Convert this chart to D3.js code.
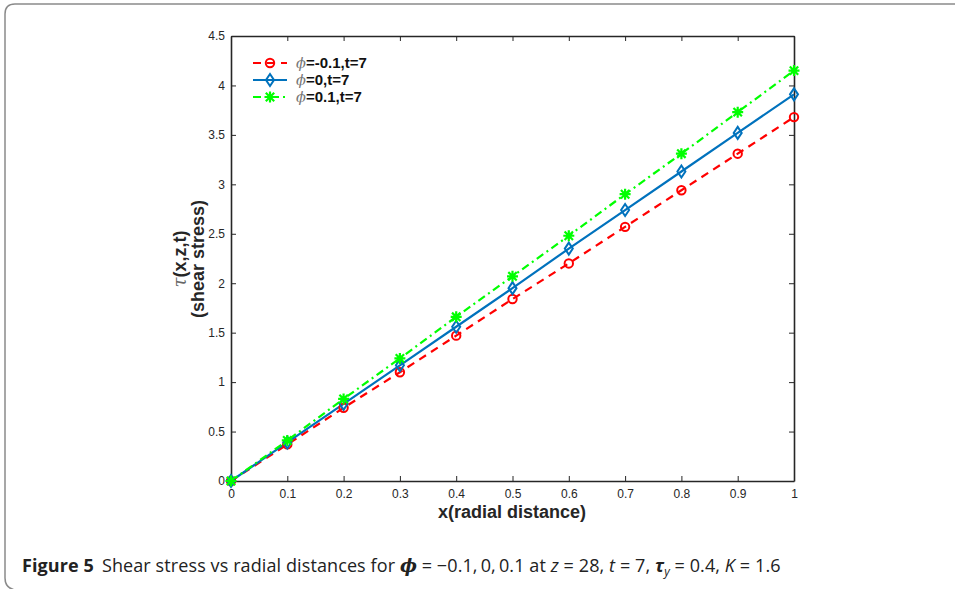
<!DOCTYPE html>
<html><head><meta charset="utf-8">
<script src="https://cdn.jsdelivr.net/npm/d3@7"></script>
<style>body{margin:0;background:#fff}svg{display:block}</style>
</head><body><svg id="c" width="955" height="589"></svg>
<script>
const xVals = [0,0.1,0.2,0.3,0.4,0.5,0.6,0.7,0.8,0.9,1];
const redVals = [0,0.37,0.74,1.10,1.47,1.84,2.20,2.57,2.94,3.31,3.68];
const blueVals = [0,0.39,0.78,1.17,1.56,1.95,2.35,2.74,3.13,3.52,3.91];
const greenVals = [0,0.41,0.83,1.24,1.66,2.07,2.48,2.90,3.31,3.73,4.15];
const seriesNames = ["=-0.1,t=7","=0,t=7","=0.1,t=7"];
const xTicks = [0,0.1,0.2,0.3,0.4,0.5,0.6,0.7,0.8,0.9,1];
const yTicks = [0,0.5,1,1.5,2,2.5,3,3.5,4,4.5];

const svg = d3.select("#c");
// frame
svg.append("path").attr("d","M 960 4 L 15 4 Q 5 4 5 14 L 5 578 Q 5 588 15 590")
  .attr("fill","none").attr("stroke","#8a8a8a").attr("stroke-width",1.5);

const L=231,R=794,T=36,B=481;
const x = d3.scaleLinear().domain([0,1]).range([L,R]);
const y = d3.scaleLinear().domain([0,4.5]).range([B,T]);
const axc = "#262626";
const g = svg.append("g");
const fmt = d=>String(d);
g.append("g").attr("transform",`translate(0,${B})`)
  .call(d3.axisBottom(x).tickValues(xTicks).tickFormat(fmt).tickSizeInner(-5).tickSizeOuter(0).tickPadding(8));
g.append("g").attr("transform",`translate(${L},0)`)
  .call(d3.axisLeft(y).tickValues(yTicks).tickFormat(fmt).tickSizeInner(-5).tickSizeOuter(0).tickPadding(6));
g.append("g").attr("transform",`translate(0,${T})`)
  .call(d3.axisTop(x).tickValues(xTicks).tickFormat("").tickSizeInner(-5).tickSizeOuter(0));
g.append("g").attr("transform",`translate(${R},0)`)
  .call(d3.axisRight(y).tickValues(yTicks).tickFormat("").tickSizeInner(-5).tickSizeOuter(0));
g.selectAll(".domain").attr("stroke",axc).attr("stroke-width",1.6);
g.selectAll(".tick line").attr("stroke",axc).attr("stroke-width",1);
g.selectAll(".tick text").attr("fill",axc).attr("font-family","Liberation Sans, Arial, sans-serif").attr("font-size",12);

const series = [
  {vals:redVals,color:"#ff0000",dash:"8,6",marker:"o"},
  {vals:blueVals,color:"#0072bd",dash:null,marker:"d"},
  {vals:greenVals,color:"#00ff00",dash:"8,4,2,4",marker:"*"}
];
const line = d3.line().x((d,i)=>x(xVals[i])).y(d=>y(d));
function drawMarker(sel,type,color,cx,cy){
  if(type==="o"){
    sel.append("circle").attr("cx",cx).attr("cy",cy).attr("r",4.2).attr("fill","none").attr("stroke",color).attr("stroke-width",2);
  } else if(type==="d"){
    sel.append("path").attr("d",`M${cx},${cy-6}L${cx+4},${cy}L${cx},${cy+6}L${cx-4},${cy}Z`).attr("fill","none").attr("stroke",color).attr("stroke-width",2);
  } else {
    const r=5.5, r2=4.2;
    sel.append("path").attr("d",`M${cx-r},${cy}L${cx+r},${cy}M${cx},${cy-r}L${cx},${cy+r}M${cx-r2},${cy-r2}L${cx+r2},${cy+r2}M${cx-r2},${cy+r2}L${cx+r2},${cy-r2}`)
      .attr("fill","none").attr("stroke",color).attr("stroke-width",2.2);
  }
}
series.forEach(s=>{
  svg.append("path").datum(s.vals).attr("d",line).attr("fill","none").attr("stroke",s.color)
    .attr("stroke-width",2.2).attr("stroke-dasharray",s.dash);
});
series.forEach(s=>{
  const mg = svg.append("g");
  s.vals.forEach((v,i)=>drawMarker(mg,s.marker,s.color,x(xVals[i]),y(v)));
});

// legend
const legY=[63,80,97];
series.forEach((s,i)=>{
  const lg = svg.append("g");
  lg.append("line").attr("x1",253).attr("x2",287).attr("y1",legY[i]).attr("y2",legY[i])
    .attr("stroke",s.color).attr("stroke-width",2.2).attr("stroke-dasharray",s.dash);
  drawMarker(lg,s.marker,s.color,270,legY[i]);
  const t = lg.append("text").attr("x",296).attr("y",legY[i]+5).attr("font-family","Liberation Sans, Arial, sans-serif")
    .attr("font-size",15).attr("fill","#111");
  t.append("tspan").attr("font-family","DejaVu Serif, serif").attr("font-style","italic").attr("fill","#777").attr("font-size",14.5).text("ϕ");
  t.append("tspan").attr("font-weight","bold").text(seriesNames[i]);
});

// axis labels
svg.append("text").attr("x",512).attr("y",518).attr("text-anchor","middle")
  .attr("font-family","Liberation Sans, Arial, sans-serif").attr("font-weight","bold").attr("font-size",18).attr("fill",axc)
  .text("x(radial distance)");
const yl = svg.append("text").attr("transform","translate(186,259) rotate(-90)").attr("text-anchor","middle")
  .attr("font-family","Liberation Sans, Arial, sans-serif").attr("font-size",18).attr("fill",axc);
const l1 = yl.append("tspan").attr("x",0).attr("dy",0);
l1.append("tspan").attr("font-family","DejaVu Serif, serif").attr("font-style","italic").attr("fill","#666").text("τ");
l1.append("tspan").attr("font-weight","bold").text("(x,z,t)");
yl.append("tspan").attr("x",0).attr("dy",18).attr("font-weight","bold").text("(shear stress)");

// caption
const cap = svg.append("text").attr("x",22).attr("y",572).attr("font-family","Open Sans, sans-serif").attr("font-size",18).attr("fill","#222")
  .attr("letter-spacing",0.1);
cap.append("tspan").attr("font-weight","bold").text("Figure 5");
cap.append("tspan").attr("dx",8).text("Shear stress vs radial distances for ");
cap.append("tspan").attr("font-weight","bold").attr("font-style","italic").attr("font-family","DejaVu Serif, serif").text("ϕ");
cap.append("tspan").text(" = −0.1,\u20090,\u20090.1 at ");
cap.append("tspan").attr("font-style","italic").text("z");
cap.append("tspan").text(" = 28, ");
cap.append("tspan").attr("font-style","italic").text("t");
cap.append("tspan").text(" = 7, ");
cap.append("tspan").attr("font-weight","bold").attr("font-style","italic").text("τ");
cap.append("tspan").attr("font-style","italic").attr("font-size",12).attr("dy",4).text("y");
cap.append("tspan").attr("dy",-4).text(" = 0.4, ");
cap.append("tspan").attr("font-style","italic").text("K");
cap.append("tspan").text(" = 1.6");
</script></body></html>
